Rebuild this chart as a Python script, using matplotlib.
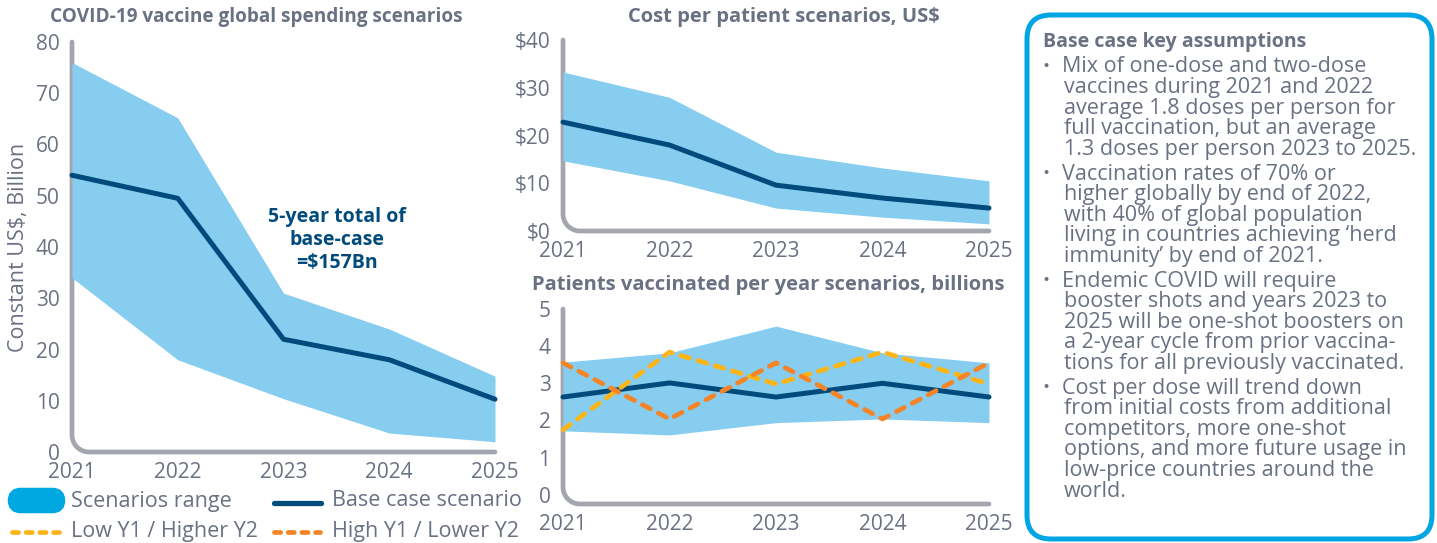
import numpy as np
import matplotlib
matplotlib.use("Agg")
import matplotlib.pyplot as plt
from matplotlib.patches import FancyBboxPatch

plt.rcParams['font.family'] = ['Open Sans', 'DejaVu Sans']

years = [2021, 2022, 2023, 2024, 2025]

# global spending, constant US$ billion
spend_hi = [76, 65.2, 31, 24, 14.8]
spend_lo = [34, 18, 10.4, 3.7, 2]
spend_base = [54, 49.5, 22, 18, 10.3]

# cost per patient, US$
cost_hi = [33.3, 28, 16.5, 13.2, 10.5]
cost_lo = [14.7, 10.5, 4.8, 2.9, 1.5]
cost_base = [22.8, 18, 9.6, 6.9, 4.8]

# patients vaccinated per year, billions
pat_hi = [3.57, 3.82, 4.54, 3.82, 3.55]
pat_lo = [1.72, 1.61, 1.94, 2.04, 1.94]
pat_base = [2.63, 3.01, 2.63, 3.0, 2.63]
pat_low_y1 = [1.75, 3.84, 2.98, 3.84, 2.98]
pat_high_y1 = [3.55, 2.04, 3.55, 2.04, 3.55]

assumptions = [
    ["Mix of one-dose and two-dose", "vaccines during 2021 and 2022",
     "average 1.8 doses per person for", "full vaccination, but an average",
     "1.3 doses per person 2023 to 2025."],
    ["Vaccination rates of 70% or", "higher globally by end of 2022,",
     "with 40% of global population", "living in countries achieving \u2018herd",
     "immunity\u2019 by end of 2021."],
    ["Endemic COVID will require", "booster shots and years 2023 to",
     "2025 will be one-shot boosters on", "a 2-year cycle from prior vaccina-",
     "tions for all previously vaccinated."],
    ["Cost per dose will trend down", "from initial costs from additional",
     "competitors, more one-shot", "options, and more future usage in",
     "low-price countries around the", "world."],
]

W, H = 1437, 543
FILL = "#87CDF0"
BASE = "#004B7B"
YEL = "#FDB515"
ORA = "#F58426"
GREY = "#697182"
SPINE = "#A4A6AF"

fig = plt.figure(figsize=(W / 100, H / 100), dpi=100)


def px_axes(l, r, t, b):
    return fig.add_axes([l / W, (H - b) / H, (r - l) / W, (b - t) / H])


def style(ax, ylim, yticks, ylabels):
    ax.set_xlim(2021, 2025)
    ax.set_ylim(*ylim)
    ax.patch.set_alpha(0)
    for s in ax.spines.values():
        s.set_visible(False)
    ax.set_xticks(years)
    ax.set_xticklabels([str(y) for y in years])
    ax.set_yticks(yticks)
    ax.set_yticklabels(ylabels)
    ax.tick_params(length=0, labelsize=15, labelcolor=GREY)
    ax.tick_params(axis='x', pad=7.5)
    ax.tick_params(axis='y', pad=9)
    # rounded L-shaped axis line
    bb = ax.get_position()
    r = 17
    rx, ry = r / (bb.width * W), r / (bb.height * H)
    t = np.linspace(np.pi, 1.5 * np.pi, 25)
    xs = np.concatenate([[0], rx + rx * np.cos(t), [1]])
    ys = np.concatenate([[1], ry + ry * np.sin(t), [0]])
    ax.plot(xs, ys, transform=ax.transAxes, color=SPINE, lw=3.4,
            solid_capstyle='round', clip_on=False, zorder=1)


# left chart
ax1 = px_axes(72, 495, 42, 452)
ax1.fill_between(years, spend_lo, spend_hi, color=FILL, lw=0, zorder=2)
ax1.plot(years, spend_base, color=BASE, lw=3.6, solid_capstyle='round', clip_on=False, zorder=3)
style(ax1, (0, 80), range(0, 81, 10), [str(v) for v in range(0, 81, 10)])
ax1.set_ylabel("Constant US$, Billion", fontsize=15.5, color=GREY, labelpad=5)

# top middle chart
ax2 = px_axes(563, 989, 40, 231)
ax2.fill_between(years, cost_lo, cost_hi, color=FILL, lw=0, zorder=2)
ax2.plot(years, cost_base, color=BASE, lw=3.6, solid_capstyle='round', clip_on=False, zorder=3)
style(ax2, (0, 40), range(0, 41, 10), ["$" + str(v) for v in range(0, 41, 10)])

# bottom middle chart
ax3 = px_axes(563, 989, 309, 504)
ax3.fill_between(years, pat_lo, pat_hi, color=FILL, lw=0, zorder=2)
ax3.plot(years, pat_base, color=BASE, lw=3.6, solid_capstyle='round', clip_on=False, zorder=3)
ax3.plot(years, pat_low_y1, color=YEL, lw=3.4, ls=(0, (1.9, 1.9)), dash_capstyle='round',
         clip_on=False, zorder=4)
ax3.plot(years, pat_high_y1, color=ORA, lw=3.4, ls=(0, (1.9, 1.9)), dash_capstyle='round',
         clip_on=False, zorder=4)
style(ax3, (-0.25, 5), range(0, 6), [str(v) for v in range(0, 6)])

# overlay in pixel coordinates for titles, legend and text box
ov = fig.add_axes([0, 0, 1, 1], zorder=10)
ov.set_xlim(0, W)
ov.set_ylim(H, 0)
ov.axis('off')

ov.text(337, 240, "5-year total of\nbase-case\n=$157Bn", ha='center', va='center',
        fontsize=14, fontweight='bold', color=BASE, linespacing=1.22)

tkw = dict(fontweight='bold', color=GREY, va='center')
ov.text(256, 17, "COVID-19 vaccine global spending scenarios", ha='center', fontsize=13.7, **tkw)
ov.text(784, 17, "Cost per patient scenarios, US$", ha='center', fontsize=14.5, **tkw)
ov.text(768, 285, "Patients vaccinated per year scenarios, billions", ha='center',
        fontsize=14.5, **tkw)

# legend
ov.add_patch(FancyBboxPatch((14, 494), 45, 13, boxstyle="round,pad=0,rounding_size=6.5",
                            mutation_aspect=1, fc="#00A8E1", ec="#00A8E1", lw=9))
ov.plot([274, 321], [503, 503], color=BASE, lw=3.8, solid_capstyle='round')
ov.plot([12, 59], [532, 532], color=YEL, lw=3.4, ls=(0, (1.3, 1.6)), dash_capstyle='round')
ov.plot([274, 320], [532, 532], color=ORA, lw=3.4, ls=(0, (1.3, 1.6)), dash_capstyle='round')
lkw = dict(fontsize=15.5, color=GREY, va='center')
ov.text(71, 501, "Scenarios range", **lkw)
ov.text(332, 501, "Base case scenario", **lkw)
ov.text(71, 531, "Low Y1 / Higher Y2", **lkw)
ov.text(332, 531, "High Y1 / Lower Y2", **lkw)

# assumptions box
ov.add_patch(FancyBboxPatch((1027, 15), 405, 524, boxstyle="round,pad=0,rounding_size=24",
                            fc='white', ec="#00A5E3", lw=3.6, zorder=0))
ov.text(1043, 42, "Base case key assumptions", fontsize=14, fontweight='bold',
        color=GREY, va='center')
y = 67
for item in assumptions:
    ov.text(1042, y, "\u2022", fontsize=13.5, color=GREY, va='center')
    for k, line in enumerate(item):
        ov.text(1062 if k == 0 else 1064, y, line, fontsize=15.5, color=GREY, va='center')
        y += 20.6
    y += 4

fig.savefig("out.png", dpi=100)
